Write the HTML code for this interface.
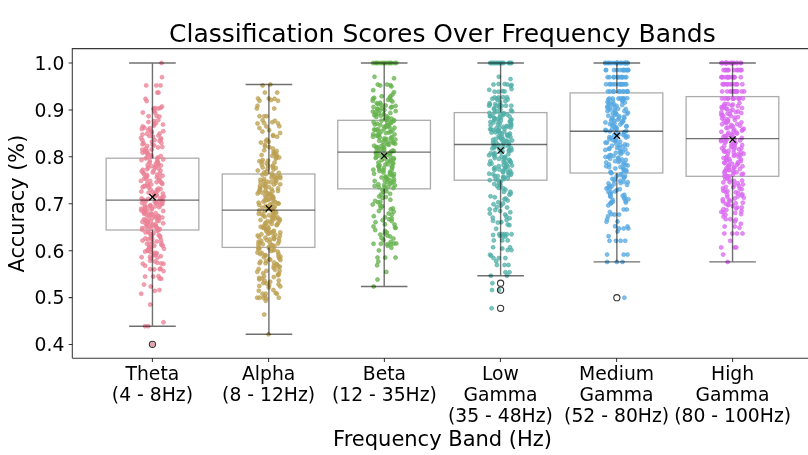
<!DOCTYPE html>
<html><head><meta charset="utf-8"><title>Classification Scores Over Frequency Bands</title>
<style>html,body{margin:0;padding:0;background:#fff;overflow:hidden}svg{display:block}</style>
</head><body>
<svg width="808" height="455" viewBox="0 0 808 455"><rect width="808" height="455" fill="#fff"/><g fill="#fff" stroke="#000" stroke-opacity="0.33" stroke-width="1.3"><rect x="106.15" y="158.2" width="92.7" height="71.8"/><rect x="222.2" y="174" width="92.7" height="73.4"/><rect x="337.75" y="120.3" width="92.7" height="68.5"/><rect x="454.25" y="112.6" width="92.7" height="67.6"/><rect x="570.1" y="92.9" width="92.7" height="80.1"/><rect x="686.1" y="96.6" width="92.7" height="79.7"/></g><g fill="#eb8295" fill-opacity="0.75" stroke="#eb8295" stroke-opacity="0.75" stroke-width="0.8"><circle cx="151.2" cy="258.6" r="2.0"/><circle cx="157.4" cy="257.7" r="2.0"/><circle cx="141.6" cy="257.2" r="2.0"/><circle cx="149.9" cy="256.9" r="2.0"/><circle cx="160.8" cy="256.2" r="2.0"/><circle cx="154.3" cy="255.1" r="2.0"/><circle cx="153.8" cy="255" r="2.0"/><circle cx="156.3" cy="253.8" r="2.0"/><circle cx="156.6" cy="253.2" r="2.0"/><circle cx="154.4" cy="252.8" r="2.0"/><circle cx="150.6" cy="252.2" r="2.0"/><circle cx="145.1" cy="251.6" r="2.0"/><circle cx="147.6" cy="250.9" r="2.0"/><circle cx="147.6" cy="250.1" r="2.0"/><circle cx="150.8" cy="249.4" r="2.0"/><circle cx="164" cy="248.7" r="2.0"/><circle cx="149" cy="247.8" r="2.0"/><circle cx="151.2" cy="247.3" r="2.0"/><circle cx="149.5" cy="246.7" r="2.0"/><circle cx="154.3" cy="245.8" r="2.0"/><circle cx="162.8" cy="245.7" r="2.0"/><circle cx="161.5" cy="245" r="2.0"/><circle cx="149.6" cy="244.1" r="2.0"/><circle cx="147" cy="243.8" r="2.0"/><circle cx="161.4" cy="243.1" r="2.0"/><circle cx="152.3" cy="242.2" r="2.0"/><circle cx="156.8" cy="241.5" r="2.0"/><circle cx="142.6" cy="240.6" r="2.0"/><circle cx="161" cy="240.1" r="2.0"/><circle cx="148.1" cy="239.5" r="2.0"/><circle cx="152.3" cy="238.9" r="2.0"/><circle cx="145.4" cy="238.4" r="2.0"/><circle cx="150.6" cy="237.9" r="2.0"/><circle cx="160.1" cy="237.1" r="2.0"/><circle cx="160" cy="236.1" r="2.0"/><circle cx="151.8" cy="235.8" r="2.0"/><circle cx="158.7" cy="235" r="2.0"/><circle cx="151.5" cy="234.6" r="2.0"/><circle cx="149.5" cy="233.4" r="2.0"/><circle cx="153.5" cy="233.2" r="2.0"/><circle cx="145.5" cy="232.4" r="2.0"/><circle cx="148.2" cy="231.4" r="2.0"/><circle cx="157.2" cy="230.9" r="2.0"/><circle cx="158.7" cy="230.1" r="2.0"/><circle cx="142.2" cy="229.7" r="2.0"/><circle cx="157.9" cy="229.2" r="2.0"/><circle cx="159.8" cy="229.1" r="2.0"/><circle cx="151.2" cy="228.5" r="2.0"/><circle cx="142.3" cy="228.1" r="2.0"/><circle cx="156.7" cy="227.5" r="2.0"/><circle cx="146.6" cy="227.3" r="2.0"/><circle cx="155.8" cy="226.7" r="2.0"/><circle cx="149.6" cy="226.5" r="2.0"/><circle cx="155.6" cy="226" r="2.0"/><circle cx="146.8" cy="225.6" r="2.0"/><circle cx="151.9" cy="225.2" r="2.0"/><circle cx="153" cy="224.5" r="2.0"/><circle cx="155.5" cy="224.3" r="2.0"/><circle cx="145.6" cy="223.6" r="2.0"/><circle cx="163.2" cy="223.3" r="2.0"/><circle cx="147.6" cy="222.9" r="2.0"/><circle cx="147.9" cy="222.4" r="2.0"/><circle cx="146.8" cy="222" r="2.0"/><circle cx="142.4" cy="221.8" r="2.0"/><circle cx="150.7" cy="221.2" r="2.0"/><circle cx="158.8" cy="220.9" r="2.0"/><circle cx="157.3" cy="220.4" r="2.0"/><circle cx="145.4" cy="220.1" r="2.0"/><circle cx="144" cy="219.3" r="2.0"/><circle cx="148.3" cy="219.2" r="2.0"/><circle cx="158.7" cy="218.6" r="2.0"/><circle cx="152.2" cy="218.3" r="2.0"/><circle cx="162.3" cy="217.6" r="2.0"/><circle cx="156.1" cy="217.3" r="2.0"/><circle cx="155.3" cy="217.1" r="2.0"/><circle cx="158.7" cy="216.4" r="2.0"/><circle cx="158.3" cy="215.9" r="2.0"/><circle cx="148.8" cy="215.5" r="2.0"/><circle cx="146.8" cy="215.2" r="2.0"/><circle cx="151" cy="215" r="2.0"/><circle cx="152.2" cy="214.5" r="2.0"/><circle cx="144.1" cy="213.8" r="2.0"/><circle cx="151.1" cy="213.5" r="2.0"/><circle cx="155.7" cy="213.2" r="2.0"/><circle cx="144" cy="212.5" r="2.0"/><circle cx="144.1" cy="212.2" r="2.0"/><circle cx="144.9" cy="211.8" r="2.0"/><circle cx="147.4" cy="211.4" r="2.0"/><circle cx="163.2" cy="211" r="2.0"/><circle cx="141.4" cy="210.6" r="2.0"/><circle cx="145.1" cy="210.3" r="2.0"/><circle cx="144.7" cy="209.5" r="2.0"/><circle cx="151.9" cy="209.3" r="2.0"/><circle cx="141.2" cy="208.8" r="2.0"/><circle cx="151.5" cy="208.5" r="2.0"/><circle cx="144.6" cy="207.9" r="2.0"/><circle cx="147.1" cy="207.7" r="2.0"/><circle cx="159.2" cy="207.2" r="2.0"/><circle cx="145.1" cy="206.9" r="2.0"/><circle cx="155.2" cy="206.4" r="2.0"/><circle cx="150.3" cy="205.6" r="2.0"/><circle cx="150.5" cy="205.3" r="2.0"/><circle cx="159.8" cy="205" r="2.0"/><circle cx="144.6" cy="204.5" r="2.0"/><circle cx="162.3" cy="204" r="2.0"/><circle cx="161.6" cy="203.8" r="2.0"/><circle cx="156.4" cy="203.2" r="2.0"/><circle cx="142" cy="202.8" r="2.0"/><circle cx="156.2" cy="202.5" r="2.0"/><circle cx="154.8" cy="202" r="2.0"/><circle cx="158.8" cy="201.4" r="2.0"/><circle cx="145.8" cy="201" r="2.0"/><circle cx="163" cy="200.9" r="2.0"/><circle cx="161.4" cy="200.1" r="2.0"/><circle cx="143.5" cy="200" r="2.0"/><circle cx="148.2" cy="199" r="2.0"/><circle cx="141.6" cy="198.4" r="2.0"/><circle cx="160.1" cy="198.2" r="2.0"/><circle cx="162.1" cy="197.4" r="2.0"/><circle cx="163.8" cy="196.6" r="2.0"/><circle cx="155" cy="196.5" r="2.0"/><circle cx="156.3" cy="195.5" r="2.0"/><circle cx="156.6" cy="194.8" r="2.0"/><circle cx="154.1" cy="194.4" r="2.0"/><circle cx="162.9" cy="193.6" r="2.0"/><circle cx="155" cy="193.3" r="2.0"/><circle cx="148.6" cy="192.7" r="2.0"/><circle cx="152.7" cy="192.1" r="2.0"/><circle cx="141.3" cy="191.6" r="2.0"/><circle cx="157.6" cy="190.9" r="2.0"/><circle cx="156.9" cy="189.9" r="2.0"/><circle cx="150.6" cy="189.5" r="2.0"/><circle cx="160.6" cy="189.1" r="2.0"/><circle cx="158.4" cy="188.5" r="2.0"/><circle cx="148.7" cy="187.5" r="2.0"/><circle cx="142.6" cy="187.2" r="2.0"/><circle cx="143.9" cy="186.3" r="2.0"/><circle cx="145.1" cy="186" r="2.0"/><circle cx="147.9" cy="185.4" r="2.0"/><circle cx="151.2" cy="184.5" r="2.0"/><circle cx="162.4" cy="184" r="2.0"/><circle cx="147.3" cy="183.5" r="2.0"/><circle cx="161.7" cy="183" r="2.0"/><circle cx="156.6" cy="182.2" r="2.0"/><circle cx="160.7" cy="181.8" r="2.0"/><circle cx="150.2" cy="180.9" r="2.0"/><circle cx="140.9" cy="180.9" r="2.0"/><circle cx="159.1" cy="180" r="2.0"/><circle cx="146.5" cy="179.4" r="2.0"/><circle cx="144.2" cy="178.5" r="2.0"/><circle cx="159.4" cy="178.3" r="2.0"/><circle cx="156.8" cy="177.4" r="2.0"/><circle cx="145.8" cy="176.9" r="2.0"/><circle cx="147.1" cy="176.3" r="2.0"/><circle cx="162.6" cy="175.7" r="2.0"/><circle cx="147.1" cy="174.9" r="2.0"/><circle cx="157.1" cy="174.7" r="2.0"/><circle cx="143.9" cy="174.1" r="2.0"/><circle cx="159.8" cy="173.6" r="2.0"/><circle cx="143.6" cy="173.1" r="2.0"/><circle cx="152.8" cy="172.4" r="2.0"/><circle cx="141.7" cy="171.4" r="2.0"/><circle cx="153.6" cy="170.8" r="2.0"/><circle cx="160.5" cy="170.6" r="2.0"/><circle cx="142.8" cy="169.8" r="2.0"/><circle cx="147.2" cy="169.2" r="2.0"/><circle cx="158.6" cy="168.6" r="2.0"/><circle cx="155" cy="167.9" r="2.0"/><circle cx="148.1" cy="167.5" r="2.0"/><circle cx="155.4" cy="166.5" r="2.0"/><circle cx="151.4" cy="166.2" r="2.0"/><circle cx="160.9" cy="165.5" r="2.0"/><circle cx="147.6" cy="164.9" r="2.0"/><circle cx="158.4" cy="164.6" r="2.0"/><circle cx="155.6" cy="164.1" r="2.0"/><circle cx="158" cy="163.3" r="2.0"/><circle cx="149.6" cy="162.5" r="2.0"/><circle cx="157.7" cy="161.8" r="2.0"/><circle cx="157.1" cy="161.3" r="2.0"/><circle cx="149.8" cy="161.1" r="2.0"/><circle cx="141.5" cy="160" r="2.0"/><circle cx="163.2" cy="159.5" r="2.0"/><circle cx="157.4" cy="158.8" r="2.0"/><circle cx="145.6" cy="158.4" r="2.0"/><circle cx="157.8" cy="157.5" r="2.0"/><circle cx="147.3" cy="157.4" r="2.0"/><circle cx="151.7" cy="156.7" r="2.0"/><circle cx="160.8" cy="156" r="2.0"/><circle cx="151.2" cy="155.1" r="2.0"/><circle cx="147.5" cy="154.3" r="2.0"/><circle cx="147.9" cy="153.7" r="2.0"/><circle cx="142.6" cy="152.7" r="2.0"/><circle cx="145.9" cy="152.3" r="2.0"/><circle cx="147.1" cy="151.2" r="2.0"/><circle cx="144.9" cy="150.8" r="2.0"/><circle cx="142.3" cy="149.7" r="2.0"/><circle cx="151.7" cy="149.5" r="2.0"/><circle cx="145.8" cy="148.5" r="2.0"/><circle cx="158" cy="147.4" r="2.0"/><circle cx="162.3" cy="146.9" r="2.0"/><circle cx="147.2" cy="146" r="2.0"/><circle cx="154.1" cy="145.4" r="2.0"/><circle cx="152.6" cy="144.7" r="2.0"/><circle cx="142.6" cy="144.3" r="2.0"/><circle cx="143.7" cy="143.3" r="2.0"/><circle cx="161.4" cy="143" r="2.0"/><circle cx="151.9" cy="141.7" r="2.0"/><circle cx="159.5" cy="140.9" r="2.0"/><circle cx="142.4" cy="140.2" r="2.0"/><circle cx="154.6" cy="140.1" r="2.0"/><circle cx="160.9" cy="139.2" r="2.0"/><circle cx="161" cy="138.5" r="2.0"/><circle cx="141" cy="137.9" r="2.0"/><circle cx="153" cy="136.8" r="2.0"/><circle cx="149.4" cy="136" r="2.0"/><circle cx="158.5" cy="135.6" r="2.0"/><circle cx="142.5" cy="134.5" r="2.0"/><circle cx="147" cy="133.8" r="2.0"/><circle cx="159.7" cy="133.6" r="2.0"/><circle cx="151.7" cy="132.4" r="2.0"/><circle cx="151.4" cy="131.5" r="2.0"/><circle cx="163.3" cy="131.2" r="2.0"/><circle cx="148.3" cy="130" r="2.0"/><circle cx="141.8" cy="129.1" r="2.0"/><circle cx="149.9" cy="128.2" r="2.0"/><circle cx="144.4" cy="127.8" r="2.0"/><circle cx="142.7" cy="126.4" r="2.0"/><circle cx="154" cy="125.6" r="2.0"/><circle cx="163" cy="124.5" r="2.0"/><circle cx="154.3" cy="123.7" r="2.0"/><circle cx="155.9" cy="123.2" r="2.0"/><circle cx="148.4" cy="122" r="2.0"/><circle cx="154.1" cy="121" r="2.0"/><circle cx="158.3" cy="120.1" r="2.0"/><circle cx="152.4" cy="344.3" r="2.0"/><circle cx="142.8" cy="263.8" r="2.0"/><circle cx="145.1" cy="265.8" r="2.0"/><circle cx="150.2" cy="260.8" r="2.0"/><circle cx="155.1" cy="261.5" r="2.0"/><circle cx="157.4" cy="262.8" r="2.0"/><circle cx="161.2" cy="263.4" r="2.0"/><circle cx="163.5" cy="263.8" r="2.0"/><circle cx="150.2" cy="269.2" r="2.0"/><circle cx="154.3" cy="269.5" r="2.0"/><circle cx="159.7" cy="269.2" r="2.0"/><circle cx="160.5" cy="268.5" r="2.0"/><circle cx="163.5" cy="271.1" r="2.0"/><circle cx="145.1" cy="276.6" r="2.0"/><circle cx="153.2" cy="276.6" r="2.0"/><circle cx="158.5" cy="276.2" r="2.0"/><circle cx="159.7" cy="278.5" r="2.0"/><circle cx="161.2" cy="278.8" r="2.0"/><circle cx="144" cy="284.6" r="2.0"/><circle cx="150.8" cy="286.5" r="2.0"/><circle cx="154.8" cy="290.8" r="2.0"/><circle cx="159.4" cy="290" r="2.0"/><circle cx="141.2" cy="293.8" r="2.0"/><circle cx="150.2" cy="304.6" r="2.0"/><circle cx="163.5" cy="322.3" r="2.0"/><circle cx="145.1" cy="326.2" r="2.0"/><circle cx="148.2" cy="326.2" r="2.0"/><circle cx="161.5" cy="63" r="2.0"/><circle cx="162" cy="77.2" r="2.0"/><circle cx="146.2" cy="85.4" r="2.0"/><circle cx="156.3" cy="85.4" r="2.0"/><circle cx="160.5" cy="85.4" r="2.0"/><circle cx="157.4" cy="92.6" r="2.0"/><circle cx="158.5" cy="92.6" r="2.0"/><circle cx="145.5" cy="98.8" r="2.0"/><circle cx="146.6" cy="101.1" r="2.0"/><circle cx="162" cy="106.5" r="2.0"/><circle cx="160.5" cy="108" r="2.0"/><circle cx="158.2" cy="108.5" r="2.0"/><circle cx="155.1" cy="108" r="2.0"/><circle cx="153.5" cy="108.8" r="2.0"/><circle cx="142.8" cy="112.6" r="2.0"/><circle cx="154.3" cy="111.1" r="2.0"/><circle cx="155.1" cy="112.6" r="2.0"/><circle cx="148.6" cy="116.2" r="2.0"/><circle cx="156.6" cy="115.7" r="2.0"/><circle cx="159.4" cy="116.5" r="2.0"/></g><g fill="#bca050" fill-opacity="0.75" stroke="#bca050" stroke-opacity="0.75" stroke-width="0.8"><circle cx="268.7" cy="287.5" r="2.0"/><circle cx="280.3" cy="286.5" r="2.0"/><circle cx="259.3" cy="285.9" r="2.0"/><circle cx="269.1" cy="285.4" r="2.0"/><circle cx="278.5" cy="284.3" r="2.0"/><circle cx="266.6" cy="283.5" r="2.0"/><circle cx="263.4" cy="283" r="2.0"/><circle cx="270.2" cy="281.8" r="2.0"/><circle cx="264.7" cy="280.8" r="2.0"/><circle cx="278.8" cy="280.5" r="2.0"/><circle cx="259.3" cy="279.4" r="2.0"/><circle cx="262.1" cy="278.4" r="2.0"/><circle cx="259.2" cy="277.9" r="2.0"/><circle cx="273.8" cy="277.1" r="2.0"/><circle cx="264.1" cy="276.2" r="2.0"/><circle cx="278.2" cy="275.3" r="2.0"/><circle cx="278" cy="274.4" r="2.0"/><circle cx="279" cy="273.6" r="2.0"/><circle cx="263.2" cy="273.2" r="2.0"/><circle cx="257.3" cy="271.8" r="2.0"/><circle cx="266.3" cy="270.9" r="2.0"/><circle cx="279.6" cy="270.7" r="2.0"/><circle cx="275" cy="269.8" r="2.0"/><circle cx="258.7" cy="269.1" r="2.0"/><circle cx="273.6" cy="267.7" r="2.0"/><circle cx="278.6" cy="266.8" r="2.0"/><circle cx="279.8" cy="266.7" r="2.0"/><circle cx="273.9" cy="265.7" r="2.0"/><circle cx="277.3" cy="265.1" r="2.0"/><circle cx="276.8" cy="264.3" r="2.0"/><circle cx="265.6" cy="263.3" r="2.0"/><circle cx="259.6" cy="263.2" r="2.0"/><circle cx="274.2" cy="262.5" r="2.0"/><circle cx="260.5" cy="261.6" r="2.0"/><circle cx="266.2" cy="260.9" r="2.0"/><circle cx="280.4" cy="260.1" r="2.0"/><circle cx="270.3" cy="259.7" r="2.0"/><circle cx="269.4" cy="259.2" r="2.0"/><circle cx="279.3" cy="258.4" r="2.0"/><circle cx="263.9" cy="257.3" r="2.0"/><circle cx="280.5" cy="256.8" r="2.0"/><circle cx="278.5" cy="256.6" r="2.0"/><circle cx="265.7" cy="255.4" r="2.0"/><circle cx="264.9" cy="255.1" r="2.0"/><circle cx="260.2" cy="254.1" r="2.0"/><circle cx="278.5" cy="254" r="2.0"/><circle cx="261.6" cy="252.8" r="2.0"/><circle cx="257.5" cy="252.6" r="2.0"/><circle cx="277.9" cy="251.7" r="2.0"/><circle cx="271.2" cy="250.9" r="2.0"/><circle cx="272.9" cy="250.3" r="2.0"/><circle cx="274.3" cy="249.9" r="2.0"/><circle cx="258.3" cy="249.3" r="2.0"/><circle cx="259.4" cy="248.5" r="2.0"/><circle cx="268.9" cy="248" r="2.0"/><circle cx="258.5" cy="247.2" r="2.0"/><circle cx="269" cy="246.8" r="2.0"/><circle cx="274.4" cy="246.1" r="2.0"/><circle cx="272.6" cy="245.6" r="2.0"/><circle cx="271.6" cy="244.9" r="2.0"/><circle cx="258.4" cy="244.6" r="2.0"/><circle cx="262.8" cy="244.2" r="2.0"/><circle cx="278.1" cy="243.5" r="2.0"/><circle cx="260.2" cy="242.7" r="2.0"/><circle cx="269.7" cy="242.4" r="2.0"/><circle cx="258.5" cy="241.8" r="2.0"/><circle cx="279.1" cy="241.1" r="2.0"/><circle cx="261.3" cy="240.8" r="2.0"/><circle cx="266.8" cy="240" r="2.0"/><circle cx="270" cy="239.4" r="2.0"/><circle cx="274" cy="239.2" r="2.0"/><circle cx="279" cy="238.5" r="2.0"/><circle cx="274.4" cy="238.2" r="2.0"/><circle cx="265.4" cy="237.7" r="2.0"/><circle cx="259" cy="237" r="2.0"/><circle cx="273.7" cy="236.4" r="2.0"/><circle cx="279.9" cy="235.7" r="2.0"/><circle cx="257.7" cy="235.6" r="2.0"/><circle cx="275.3" cy="234.7" r="2.0"/><circle cx="261.4" cy="234.3" r="2.0"/><circle cx="268" cy="234" r="2.0"/><circle cx="269.4" cy="233" r="2.0"/><circle cx="271.6" cy="232.6" r="2.0"/><circle cx="280.3" cy="232.4" r="2.0"/><circle cx="273.2" cy="231.4" r="2.0"/><circle cx="266.4" cy="231.3" r="2.0"/><circle cx="273.9" cy="230.8" r="2.0"/><circle cx="268.1" cy="230.2" r="2.0"/><circle cx="266.9" cy="229.3" r="2.0"/><circle cx="265.8" cy="229.2" r="2.0"/><circle cx="268.7" cy="228.2" r="2.0"/><circle cx="263.8" cy="227.9" r="2.0"/><circle cx="262.9" cy="227.6" r="2.0"/><circle cx="260.7" cy="226.8" r="2.0"/><circle cx="267.5" cy="226.4" r="2.0"/><circle cx="264.1" cy="225.8" r="2.0"/><circle cx="276.7" cy="225.1" r="2.0"/><circle cx="277" cy="224.6" r="2.0"/><circle cx="265.3" cy="223.9" r="2.0"/><circle cx="271.7" cy="223.9" r="2.0"/><circle cx="278.2" cy="223" r="2.0"/><circle cx="265.6" cy="222.7" r="2.0"/><circle cx="270.2" cy="221.9" r="2.0"/><circle cx="267.6" cy="221.3" r="2.0"/><circle cx="272.4" cy="220.8" r="2.0"/><circle cx="279.6" cy="220.6" r="2.0"/><circle cx="260.5" cy="220" r="2.0"/><circle cx="279.7" cy="219.2" r="2.0"/><circle cx="272.7" cy="218.6" r="2.0"/><circle cx="275.8" cy="218.4" r="2.0"/><circle cx="272" cy="217.6" r="2.0"/><circle cx="277.5" cy="217.3" r="2.0"/><circle cx="264.9" cy="216.8" r="2.0"/><circle cx="273.7" cy="216.1" r="2.0"/><circle cx="263.4" cy="215.7" r="2.0"/><circle cx="269.1" cy="215.2" r="2.0"/><circle cx="273.1" cy="214.7" r="2.0"/><circle cx="262" cy="214.1" r="2.0"/><circle cx="258.7" cy="213.8" r="2.0"/><circle cx="275.6" cy="213.3" r="2.0"/><circle cx="276.1" cy="212.4" r="2.0"/><circle cx="272.7" cy="211.9" r="2.0"/><circle cx="264.8" cy="211.3" r="2.0"/><circle cx="272.6" cy="210.7" r="2.0"/><circle cx="259.2" cy="210.5" r="2.0"/><circle cx="272.7" cy="210" r="2.0"/><circle cx="270.7" cy="209.4" r="2.0"/><circle cx="271.6" cy="208.9" r="2.0"/><circle cx="267.7" cy="208.2" r="2.0"/><circle cx="262.5" cy="207.8" r="2.0"/><circle cx="274.1" cy="207.4" r="2.0"/><circle cx="268.1" cy="206.7" r="2.0"/><circle cx="274.6" cy="206.4" r="2.0"/><circle cx="265.7" cy="205.9" r="2.0"/><circle cx="259.3" cy="205.1" r="2.0"/><circle cx="269.9" cy="204.6" r="2.0"/><circle cx="271.7" cy="204.3" r="2.0"/><circle cx="278.7" cy="203.6" r="2.0"/><circle cx="277.9" cy="203.4" r="2.0"/><circle cx="258.6" cy="202.7" r="2.0"/><circle cx="275.2" cy="202.1" r="2.0"/><circle cx="263.4" cy="201.7" r="2.0"/><circle cx="273.5" cy="201.2" r="2.0"/><circle cx="266.1" cy="200.5" r="2.0"/><circle cx="264.8" cy="200" r="2.0"/><circle cx="268.6" cy="199.7" r="2.0"/><circle cx="269.6" cy="198.9" r="2.0"/><circle cx="273.4" cy="198.7" r="2.0"/><circle cx="272.1" cy="197.8" r="2.0"/><circle cx="273" cy="197.6" r="2.0"/><circle cx="266.2" cy="197.1" r="2.0"/><circle cx="273" cy="196.6" r="2.0"/><circle cx="265.3" cy="195.7" r="2.0"/><circle cx="271.4" cy="195.5" r="2.0"/><circle cx="268" cy="194.8" r="2.0"/><circle cx="270.4" cy="194.1" r="2.0"/><circle cx="257.7" cy="193.6" r="2.0"/><circle cx="268.9" cy="193.6" r="2.0"/><circle cx="262.4" cy="192.8" r="2.0"/><circle cx="266.3" cy="192.3" r="2.0"/><circle cx="259" cy="191.7" r="2.0"/><circle cx="272.5" cy="191.4" r="2.0"/><circle cx="278" cy="190.9" r="2.0"/><circle cx="265.5" cy="190.5" r="2.0"/><circle cx="259.7" cy="190" r="2.0"/><circle cx="271.7" cy="189.2" r="2.0"/><circle cx="260.2" cy="188.9" r="2.0"/><circle cx="278" cy="188.4" r="2.0"/><circle cx="260.1" cy="187.8" r="2.0"/><circle cx="265.7" cy="187.4" r="2.0"/><circle cx="268.8" cy="186.9" r="2.0"/><circle cx="260" cy="185.9" r="2.0"/><circle cx="264.7" cy="185.7" r="2.0"/><circle cx="263.7" cy="185.3" r="2.0"/><circle cx="273.8" cy="184.5" r="2.0"/><circle cx="280.2" cy="184.3" r="2.0"/><circle cx="265.7" cy="183.7" r="2.0"/><circle cx="275.6" cy="182.8" r="2.0"/><circle cx="260.6" cy="182.3" r="2.0"/><circle cx="270.8" cy="182" r="2.0"/><circle cx="267.3" cy="181.7" r="2.0"/><circle cx="264" cy="181.1" r="2.0"/><circle cx="276.4" cy="180.7" r="2.0"/><circle cx="274.6" cy="180.1" r="2.0"/><circle cx="260.4" cy="179.7" r="2.0"/><circle cx="264.1" cy="179.1" r="2.0"/><circle cx="276.3" cy="178.3" r="2.0"/><circle cx="280.3" cy="178.1" r="2.0"/><circle cx="271.5" cy="177.6" r="2.0"/><circle cx="277.5" cy="176.7" r="2.0"/><circle cx="280.1" cy="176.4" r="2.0"/><circle cx="274.5" cy="175.9" r="2.0"/><circle cx="272.3" cy="175.5" r="2.0"/><circle cx="262.4" cy="174.7" r="2.0"/><circle cx="265.9" cy="174.2" r="2.0"/><circle cx="271.8" cy="173.6" r="2.0"/><circle cx="278.8" cy="172.8" r="2.0"/><circle cx="264.3" cy="172.4" r="2.0"/><circle cx="266.5" cy="171.5" r="2.0"/><circle cx="257.8" cy="170.5" r="2.0"/><circle cx="273.5" cy="169.4" r="2.0"/><circle cx="267.6" cy="168.7" r="2.0"/><circle cx="275.8" cy="168.1" r="2.0"/><circle cx="262.7" cy="167.4" r="2.0"/><circle cx="272.6" cy="167" r="2.0"/><circle cx="272.9" cy="165.6" r="2.0"/><circle cx="268.1" cy="165.4" r="2.0"/><circle cx="261.7" cy="164.6" r="2.0"/><circle cx="266.6" cy="163.4" r="2.0"/><circle cx="274.6" cy="162.5" r="2.0"/><circle cx="261.7" cy="161.8" r="2.0"/><circle cx="259.4" cy="161.2" r="2.0"/><circle cx="268" cy="160.7" r="2.0"/><circle cx="262.7" cy="160" r="2.0"/><circle cx="275.9" cy="158.6" r="2.0"/><circle cx="276.3" cy="157.7" r="2.0"/><circle cx="279.2" cy="157.5" r="2.0"/><circle cx="276.8" cy="156.3" r="2.0"/><circle cx="272.3" cy="155.8" r="2.0"/><circle cx="261.6" cy="155.1" r="2.0"/><circle cx="276.4" cy="154.2" r="2.0"/><circle cx="274.2" cy="153.8" r="2.0"/><circle cx="274.6" cy="152.7" r="2.0"/><circle cx="273.5" cy="152.1" r="2.0"/><circle cx="276.6" cy="150.9" r="2.0"/><circle cx="264.2" cy="150.3" r="2.0"/><circle cx="272.9" cy="148.6" r="2.0"/><circle cx="269.3" cy="147.1" r="2.0"/><circle cx="265.1" cy="146.5" r="2.0"/><circle cx="264.9" cy="145.1" r="2.0"/><circle cx="260.9" cy="142.6" r="2.0"/><circle cx="268.7" cy="141.8" r="2.0"/><circle cx="265.9" cy="140.9" r="2.0"/><circle cx="267.1" cy="139.6" r="2.0"/><circle cx="277.1" cy="136.7" r="2.0"/><circle cx="273.1" cy="135.9" r="2.0"/><circle cx="273.1" cy="135.2" r="2.0"/><circle cx="280.1" cy="133" r="2.0"/><circle cx="262.4" cy="131.6" r="2.0"/><circle cx="269.1" cy="130.2" r="2.0"/><circle cx="259.4" cy="128" r="2.0"/><circle cx="266.4" cy="126.5" r="2.0"/><circle cx="279.3" cy="126.3" r="2.0"/><circle cx="258.8" cy="290.8" r="2.0"/><circle cx="262.6" cy="293.8" r="2.0"/><circle cx="265.7" cy="293.8" r="2.0"/><circle cx="264.9" cy="296.2" r="2.0"/><circle cx="273.4" cy="290" r="2.0"/><circle cx="275.7" cy="293.1" r="2.0"/><circle cx="278.8" cy="297.7" r="2.0"/><circle cx="276.9" cy="293.8" r="2.0"/><circle cx="257.2" cy="297.7" r="2.0"/><circle cx="259.5" cy="297.7" r="2.0"/><circle cx="263.4" cy="297.7" r="2.0"/><circle cx="266.2" cy="298.5" r="2.0"/><circle cx="265.7" cy="300.8" r="2.0"/><circle cx="264.2" cy="314.6" r="2.0"/><circle cx="268.5" cy="334.3" r="2.0"/><circle cx="262.6" cy="85.4" r="2.0"/><circle cx="270.3" cy="84.5" r="2.0"/><circle cx="264.9" cy="92.6" r="2.0"/><circle cx="277.2" cy="92.6" r="2.0"/><circle cx="258" cy="98.5" r="2.0"/><circle cx="259.5" cy="100.8" r="2.0"/><circle cx="268.8" cy="98.5" r="2.0"/><circle cx="271.1" cy="100" r="2.0"/><circle cx="274.5" cy="98.8" r="2.0"/><circle cx="278" cy="100.8" r="2.0"/><circle cx="257.5" cy="105.8" r="2.0"/><circle cx="256.9" cy="108.5" r="2.0"/><circle cx="274.2" cy="108.5" r="2.0"/><circle cx="259.5" cy="116.2" r="2.0"/><circle cx="264.2" cy="116.2" r="2.0"/><circle cx="266.5" cy="116.2" r="2.0"/><circle cx="262.6" cy="120.3" r="2.0"/><circle cx="264.2" cy="123.1" r="2.0"/><circle cx="257.5" cy="123.4" r="2.0"/><circle cx="272.3" cy="122.3" r="2.0"/><circle cx="274.9" cy="120.8" r="2.0"/><circle cx="278" cy="123.4" r="2.0"/></g><g fill="#65b14d" fill-opacity="0.75" stroke="#65b14d" stroke-opacity="0.75" stroke-width="0.8"><circle cx="390.7" cy="241.9" r="2.0"/><circle cx="383.5" cy="239.9" r="2.0"/><circle cx="393.4" cy="238.6" r="2.0"/><circle cx="381.5" cy="237.9" r="2.0"/><circle cx="390" cy="236.4" r="2.0"/><circle cx="387.4" cy="235.6" r="2.0"/><circle cx="380.3" cy="234.6" r="2.0"/><circle cx="384.9" cy="233.2" r="2.0"/><circle cx="386.7" cy="232.4" r="2.0"/><circle cx="385.1" cy="231.1" r="2.0"/><circle cx="375.2" cy="230" r="2.0"/><circle cx="395.6" cy="228" r="2.0"/><circle cx="395" cy="227.6" r="2.0"/><circle cx="373.5" cy="226.5" r="2.0"/><circle cx="394.5" cy="224.5" r="2.0"/><circle cx="384.9" cy="224.3" r="2.0"/><circle cx="375.5" cy="222.2" r="2.0"/><circle cx="391.6" cy="221.1" r="2.0"/><circle cx="382.6" cy="220.2" r="2.0"/><circle cx="389.1" cy="219.3" r="2.0"/><circle cx="391.8" cy="218.4" r="2.0"/><circle cx="385.1" cy="217.3" r="2.0"/><circle cx="373.8" cy="216.2" r="2.0"/><circle cx="391.7" cy="214.7" r="2.0"/><circle cx="388.7" cy="213.5" r="2.0"/><circle cx="393.7" cy="211.7" r="2.0"/><circle cx="378.9" cy="211" r="2.0"/><circle cx="390.8" cy="209.3" r="2.0"/><circle cx="392.9" cy="208.4" r="2.0"/><circle cx="380.8" cy="207.9" r="2.0"/><circle cx="382.1" cy="206.3" r="2.0"/><circle cx="380.3" cy="205.6" r="2.0"/><circle cx="372.7" cy="204.5" r="2.0"/><circle cx="378" cy="202.3" r="2.0"/><circle cx="380.3" cy="201.9" r="2.0"/><circle cx="375.1" cy="200.9" r="2.0"/><circle cx="390.4" cy="199.8" r="2.0"/><circle cx="382.5" cy="198" r="2.0"/><circle cx="385.8" cy="197" r="2.0"/><circle cx="379.2" cy="196.4" r="2.0"/><circle cx="381" cy="194.4" r="2.0"/><circle cx="390.1" cy="193.8" r="2.0"/><circle cx="383.5" cy="192" r="2.0"/><circle cx="386.4" cy="191.2" r="2.0"/><circle cx="382.4" cy="189.9" r="2.0"/><circle cx="385.5" cy="188.9" r="2.0"/><circle cx="393.4" cy="188.1" r="2.0"/><circle cx="378.8" cy="187.3" r="2.0"/><circle cx="384.6" cy="186.9" r="2.0"/><circle cx="388.5" cy="186.7" r="2.0"/><circle cx="374.6" cy="185.9" r="2.0"/><circle cx="394.9" cy="185.4" r="2.0"/><circle cx="384.2" cy="184.9" r="2.0"/><circle cx="378.3" cy="184.3" r="2.0"/><circle cx="390.2" cy="183.7" r="2.0"/><circle cx="391.5" cy="182.7" r="2.0"/><circle cx="387.2" cy="182.2" r="2.0"/><circle cx="393.9" cy="181.5" r="2.0"/><circle cx="374.7" cy="181" r="2.0"/><circle cx="384.8" cy="180.7" r="2.0"/><circle cx="389.8" cy="180.1" r="2.0"/><circle cx="393.9" cy="179.4" r="2.0"/><circle cx="387.5" cy="178.9" r="2.0"/><circle cx="386.6" cy="178.3" r="2.0"/><circle cx="381.6" cy="177.5" r="2.0"/><circle cx="385.9" cy="177.3" r="2.0"/><circle cx="385.5" cy="176.6" r="2.0"/><circle cx="393.6" cy="175.9" r="2.0"/><circle cx="391.8" cy="175.2" r="2.0"/><circle cx="389.7" cy="174.6" r="2.0"/><circle cx="394" cy="174" r="2.0"/><circle cx="374.1" cy="173.8" r="2.0"/><circle cx="390.5" cy="173.1" r="2.0"/><circle cx="383.4" cy="172.5" r="2.0"/><circle cx="390" cy="171.9" r="2.0"/><circle cx="379.5" cy="171" r="2.0"/><circle cx="383.4" cy="170.3" r="2.0"/><circle cx="391.7" cy="169.9" r="2.0"/><circle cx="373.4" cy="169.7" r="2.0"/><circle cx="379.4" cy="169" r="2.0"/><circle cx="383.9" cy="168.1" r="2.0"/><circle cx="392.4" cy="167.4" r="2.0"/><circle cx="378.9" cy="167" r="2.0"/><circle cx="391.7" cy="166.6" r="2.0"/><circle cx="378.3" cy="166" r="2.0"/><circle cx="379.6" cy="165.2" r="2.0"/><circle cx="385.4" cy="164.5" r="2.0"/><circle cx="387.8" cy="164.2" r="2.0"/><circle cx="393" cy="163.7" r="2.0"/><circle cx="393" cy="163.3" r="2.0"/><circle cx="378.4" cy="162.6" r="2.0"/><circle cx="389.9" cy="161.6" r="2.0"/><circle cx="387.3" cy="161.1" r="2.0"/><circle cx="381.6" cy="160.3" r="2.0"/><circle cx="390.6" cy="160.3" r="2.0"/><circle cx="393.4" cy="159.5" r="2.0"/><circle cx="383.7" cy="158.7" r="2.0"/><circle cx="393.9" cy="158.2" r="2.0"/><circle cx="375.6" cy="157.9" r="2.0"/><circle cx="376.5" cy="157.1" r="2.0"/><circle cx="390.3" cy="156.4" r="2.0"/><circle cx="379.7" cy="155.8" r="2.0"/><circle cx="386.2" cy="155.4" r="2.0"/><circle cx="384.1" cy="154.9" r="2.0"/><circle cx="376" cy="153.9" r="2.0"/><circle cx="390.1" cy="153.6" r="2.0"/><circle cx="389.8" cy="152.9" r="2.0"/><circle cx="376" cy="152.4" r="2.0"/><circle cx="378.6" cy="152.1" r="2.0"/><circle cx="391.2" cy="151.5" r="2.0"/><circle cx="393.8" cy="151.1" r="2.0"/><circle cx="392.8" cy="150.5" r="2.0"/><circle cx="384.2" cy="150" r="2.0"/><circle cx="381.1" cy="149.3" r="2.0"/><circle cx="382.9" cy="148.9" r="2.0"/><circle cx="376.7" cy="148.4" r="2.0"/><circle cx="384.1" cy="147.6" r="2.0"/><circle cx="378" cy="147.5" r="2.0"/><circle cx="376.4" cy="147" r="2.0"/><circle cx="381.4" cy="146.1" r="2.0"/><circle cx="374.1" cy="145.7" r="2.0"/><circle cx="383.5" cy="145.3" r="2.0"/><circle cx="388.8" cy="144.8" r="2.0"/><circle cx="387.7" cy="144.2" r="2.0"/><circle cx="395.2" cy="143.8" r="2.0"/><circle cx="393.2" cy="143" r="2.0"/><circle cx="387.3" cy="142.5" r="2.0"/><circle cx="393.4" cy="142.3" r="2.0"/><circle cx="382.9" cy="141.9" r="2.0"/><circle cx="391.1" cy="141" r="2.0"/><circle cx="379.2" cy="140.8" r="2.0"/><circle cx="384.8" cy="140.1" r="2.0"/><circle cx="395.3" cy="139.5" r="2.0"/><circle cx="386.5" cy="139" r="2.0"/><circle cx="384.4" cy="138.4" r="2.0"/><circle cx="390.9" cy="138.1" r="2.0"/><circle cx="379.8" cy="137.4" r="2.0"/><circle cx="391.9" cy="137.1" r="2.0"/><circle cx="373" cy="136.7" r="2.0"/><circle cx="378.1" cy="136.1" r="2.0"/><circle cx="376.7" cy="135.6" r="2.0"/><circle cx="378.6" cy="134.9" r="2.0"/><circle cx="394.5" cy="134.4" r="2.0"/><circle cx="373.2" cy="134.2" r="2.0"/><circle cx="379.5" cy="133.7" r="2.0"/><circle cx="385.9" cy="133.1" r="2.0"/><circle cx="388.9" cy="132.5" r="2.0"/><circle cx="390.6" cy="131.8" r="2.0"/><circle cx="381.5" cy="131.3" r="2.0"/><circle cx="377.7" cy="130.7" r="2.0"/><circle cx="392.4" cy="130.4" r="2.0"/><circle cx="375.4" cy="129.9" r="2.0"/><circle cx="374.1" cy="129.6" r="2.0"/><circle cx="378" cy="129" r="2.0"/><circle cx="384" cy="128.7" r="2.0"/><circle cx="394.5" cy="127.8" r="2.0"/><circle cx="389.5" cy="127.5" r="2.0"/><circle cx="385.7" cy="127.1" r="2.0"/><circle cx="384.7" cy="126.5" r="2.0"/><circle cx="388.7" cy="126" r="2.0"/><circle cx="387.1" cy="125.3" r="2.0"/><circle cx="380.4" cy="125.1" r="2.0"/><circle cx="374.8" cy="124.5" r="2.0"/><circle cx="377.3" cy="123.7" r="2.0"/><circle cx="390.8" cy="123.2" r="2.0"/><circle cx="387.3" cy="122.8" r="2.0"/><circle cx="391.1" cy="122.3" r="2.0"/><circle cx="373.6" cy="122" r="2.0"/><circle cx="393.5" cy="121.1" r="2.0"/><circle cx="381.5" cy="120.7" r="2.0"/><circle cx="394.1" cy="120.3" r="2.0"/><circle cx="386.4" cy="119.9" r="2.0"/><circle cx="385.3" cy="119.3" r="2.0"/><circle cx="391.6" cy="118.7" r="2.0"/><circle cx="387.1" cy="118.1" r="2.0"/><circle cx="388.3" cy="117.7" r="2.0"/><circle cx="376.3" cy="116.9" r="2.0"/><circle cx="386.6" cy="116.3" r="2.0"/><circle cx="380.9" cy="115.8" r="2.0"/><circle cx="374.4" cy="115.2" r="2.0"/><circle cx="375.7" cy="114.7" r="2.0"/><circle cx="383.7" cy="114.1" r="2.0"/><circle cx="378.7" cy="113.4" r="2.0"/><circle cx="390.4" cy="112.9" r="2.0"/><circle cx="375.4" cy="112.5" r="2.0"/><circle cx="372.9" cy="111.6" r="2.0"/><circle cx="395.7" cy="111.1" r="2.0"/><circle cx="379.9" cy="110.6" r="2.0"/><circle cx="384.4" cy="109.9" r="2.0"/><circle cx="377.5" cy="109.3" r="2.0"/><circle cx="377.4" cy="108.7" r="2.0"/><circle cx="381.9" cy="108.1" r="2.0"/><circle cx="390.9" cy="107.6" r="2.0"/><circle cx="373.5" cy="107" r="2.0"/><circle cx="392" cy="106.8" r="2.0"/><circle cx="395.6" cy="105.9" r="2.0"/><circle cx="385.6" cy="105.5" r="2.0"/><circle cx="381" cy="104.7" r="2.0"/><circle cx="378" cy="104.1" r="2.0"/><circle cx="376.8" cy="103.2" r="2.0"/><circle cx="380.1" cy="102.7" r="2.0"/><circle cx="392.4" cy="101.6" r="2.0"/><circle cx="372.7" cy="100.8" r="2.0"/><circle cx="390.8" cy="100" r="2.0"/><circle cx="388.1" cy="99.8" r="2.0"/><circle cx="373" cy="98.7" r="2.0"/><circle cx="374.2" cy="97.8" r="2.0"/><circle cx="389.7" cy="97.7" r="2.0"/><circle cx="373.5" cy="243.8" r="2.0"/><circle cx="380.9" cy="243.8" r="2.0"/><circle cx="387.1" cy="244.2" r="2.0"/><circle cx="390.9" cy="244.2" r="2.0"/><circle cx="394" cy="243.5" r="2.0"/><circle cx="396.3" cy="243.5" r="2.0"/><circle cx="387.8" cy="245.8" r="2.0"/><circle cx="391.4" cy="247.8" r="2.0"/><circle cx="378.9" cy="250.4" r="2.0"/><circle cx="377.5" cy="257.6" r="2.0"/><circle cx="385.2" cy="257.6" r="2.0"/><circle cx="395.5" cy="257.6" r="2.0"/><circle cx="378.3" cy="261.6" r="2.0"/><circle cx="377.1" cy="265.3" r="2.0"/><circle cx="386.3" cy="271.9" r="2.0"/><circle cx="377.5" cy="279.6" r="2.0"/><circle cx="373.7" cy="286.5" r="2.0"/><circle cx="373.2" cy="63" r="2.0"/><circle cx="375.5" cy="63" r="2.0"/><circle cx="377.8" cy="63" r="2.0"/><circle cx="380.2" cy="63" r="2.0"/><circle cx="382.5" cy="63" r="2.0"/><circle cx="385.5" cy="63" r="2.0"/><circle cx="387.8" cy="63" r="2.0"/><circle cx="389.4" cy="63" r="2.0"/><circle cx="391.7" cy="63" r="2.0"/><circle cx="394.8" cy="63" r="2.0"/><circle cx="396.3" cy="63" r="2.0"/><circle cx="376.5" cy="63" r="2.0"/><circle cx="384" cy="63" r="2.0"/><circle cx="390.5" cy="63" r="2.0"/><circle cx="374.5" cy="76.8" r="2.0"/><circle cx="394" cy="78.3" r="2.0"/><circle cx="377.8" cy="84.5" r="2.0"/><circle cx="380.2" cy="85.5" r="2.0"/><circle cx="387.1" cy="84.5" r="2.0"/><circle cx="390.5" cy="85.2" r="2.0"/><circle cx="391.4" cy="86.5" r="2.0"/><circle cx="373.2" cy="90.2" r="2.0"/><circle cx="394" cy="92.2" r="2.0"/><circle cx="392.5" cy="94.5" r="2.0"/><circle cx="390.5" cy="96.3" r="2.0"/><circle cx="381.7" cy="96.3" r="2.0"/></g><g fill="#51afa8" fill-opacity="0.75" stroke="#51afa8" stroke-opacity="0.75" stroke-width="0.8"><circle cx="509.4" cy="225.2" r="2.0"/><circle cx="507.7" cy="224.5" r="2.0"/><circle cx="497.8" cy="222.6" r="2.0"/><circle cx="501.3" cy="222.2" r="2.0"/><circle cx="493" cy="220.8" r="2.0"/><circle cx="506.6" cy="220" r="2.0"/><circle cx="509.7" cy="218.2" r="2.0"/><circle cx="492.7" cy="217.6" r="2.0"/><circle cx="506.3" cy="216.4" r="2.0"/><circle cx="505.1" cy="214.5" r="2.0"/><circle cx="489.8" cy="213.6" r="2.0"/><circle cx="510.3" cy="212.3" r="2.0"/><circle cx="500.1" cy="211" r="2.0"/><circle cx="495.2" cy="210" r="2.0"/><circle cx="489.7" cy="209.3" r="2.0"/><circle cx="507.1" cy="207.5" r="2.0"/><circle cx="496.8" cy="207" r="2.0"/><circle cx="500.9" cy="205.6" r="2.0"/><circle cx="493.5" cy="204.3" r="2.0"/><circle cx="503.1" cy="203.5" r="2.0"/><circle cx="498.2" cy="202.3" r="2.0"/><circle cx="507.7" cy="200.5" r="2.0"/><circle cx="504.5" cy="199.2" r="2.0"/><circle cx="505.7" cy="198.5" r="2.0"/><circle cx="494.8" cy="197.3" r="2.0"/><circle cx="490.5" cy="196.3" r="2.0"/><circle cx="509.4" cy="194.7" r="2.0"/><circle cx="510.7" cy="193.5" r="2.0"/><circle cx="503.9" cy="191.9" r="2.0"/><circle cx="510.4" cy="191.8" r="2.0"/><circle cx="505.4" cy="189.6" r="2.0"/><circle cx="503.1" cy="188.3" r="2.0"/><circle cx="498.7" cy="187.9" r="2.0"/><circle cx="497.3" cy="186.2" r="2.0"/><circle cx="500.4" cy="185" r="2.0"/><circle cx="494.2" cy="184" r="2.0"/><circle cx="498.9" cy="183.2" r="2.0"/><circle cx="500.8" cy="181.7" r="2.0"/><circle cx="489.7" cy="180.2" r="2.0"/><circle cx="498.1" cy="180.1" r="2.0"/><circle cx="495.6" cy="179.4" r="2.0"/><circle cx="503.7" cy="179.1" r="2.0"/><circle cx="507.8" cy="178.2" r="2.0"/><circle cx="503.3" cy="177.7" r="2.0"/><circle cx="504.4" cy="177.5" r="2.0"/><circle cx="503.2" cy="176.7" r="2.0"/><circle cx="494.9" cy="176.2" r="2.0"/><circle cx="497.7" cy="176" r="2.0"/><circle cx="508.6" cy="175.3" r="2.0"/><circle cx="510.9" cy="174.7" r="2.0"/><circle cx="493.2" cy="174.3" r="2.0"/><circle cx="489.2" cy="173.7" r="2.0"/><circle cx="511.3" cy="173" r="2.0"/><circle cx="508.9" cy="172.7" r="2.0"/><circle cx="503.1" cy="172.2" r="2.0"/><circle cx="508" cy="171.9" r="2.0"/><circle cx="502.8" cy="171.4" r="2.0"/><circle cx="510" cy="170.5" r="2.0"/><circle cx="494.6" cy="170" r="2.0"/><circle cx="499.3" cy="169.5" r="2.0"/><circle cx="504.6" cy="169.1" r="2.0"/><circle cx="494" cy="168.6" r="2.0"/><circle cx="505.6" cy="168.1" r="2.0"/><circle cx="495.1" cy="167.5" r="2.0"/><circle cx="505.5" cy="167.2" r="2.0"/><circle cx="507.7" cy="166.6" r="2.0"/><circle cx="498.8" cy="166.1" r="2.0"/><circle cx="512" cy="165.5" r="2.0"/><circle cx="503.6" cy="165.2" r="2.0"/><circle cx="506.6" cy="164.8" r="2.0"/><circle cx="489.5" cy="164.2" r="2.0"/><circle cx="491.6" cy="163.7" r="2.0"/><circle cx="505.5" cy="162.8" r="2.0"/><circle cx="510.9" cy="162.4" r="2.0"/><circle cx="503.6" cy="161.9" r="2.0"/><circle cx="510.2" cy="161.5" r="2.0"/><circle cx="490.4" cy="161.2" r="2.0"/><circle cx="509.7" cy="160.5" r="2.0"/><circle cx="509.4" cy="159.8" r="2.0"/><circle cx="503.6" cy="159.4" r="2.0"/><circle cx="499" cy="158.9" r="2.0"/><circle cx="505.4" cy="158.5" r="2.0"/><circle cx="494.7" cy="158.1" r="2.0"/><circle cx="504.5" cy="157.3" r="2.0"/><circle cx="505.1" cy="156.9" r="2.0"/><circle cx="501.5" cy="156.5" r="2.0"/><circle cx="495" cy="156" r="2.0"/><circle cx="489" cy="155.3" r="2.0"/><circle cx="493.5" cy="154.9" r="2.0"/><circle cx="508.3" cy="154.3" r="2.0"/><circle cx="493.9" cy="153.9" r="2.0"/><circle cx="490.7" cy="153.2" r="2.0"/><circle cx="494.7" cy="152.9" r="2.0"/><circle cx="501" cy="152.3" r="2.0"/><circle cx="502.6" cy="151.6" r="2.0"/><circle cx="509.3" cy="151.2" r="2.0"/><circle cx="508.8" cy="150.6" r="2.0"/><circle cx="511.5" cy="150.3" r="2.0"/><circle cx="509.5" cy="149.6" r="2.0"/><circle cx="499.4" cy="149.3" r="2.0"/><circle cx="492.3" cy="148.5" r="2.0"/><circle cx="511.2" cy="148" r="2.0"/><circle cx="494.3" cy="147.6" r="2.0"/><circle cx="503.4" cy="147" r="2.0"/><circle cx="495.1" cy="146.6" r="2.0"/><circle cx="508" cy="146" r="2.0"/><circle cx="493.7" cy="145.8" r="2.0"/><circle cx="498.8" cy="144.9" r="2.0"/><circle cx="494.1" cy="144.5" r="2.0"/><circle cx="509" cy="144.3" r="2.0"/><circle cx="503.4" cy="143.8" r="2.0"/><circle cx="503.6" cy="143.2" r="2.0"/><circle cx="496.3" cy="142.7" r="2.0"/><circle cx="493.1" cy="142.5" r="2.0"/><circle cx="508.9" cy="141.7" r="2.0"/><circle cx="506.7" cy="141.5" r="2.0"/><circle cx="506" cy="140.7" r="2.0"/><circle cx="512.1" cy="140.4" r="2.0"/><circle cx="502" cy="140.1" r="2.0"/><circle cx="493.1" cy="139.7" r="2.0"/><circle cx="503.1" cy="139.3" r="2.0"/><circle cx="495.7" cy="138.9" r="2.0"/><circle cx="500.9" cy="138.2" r="2.0"/><circle cx="499.7" cy="137.6" r="2.0"/><circle cx="502.1" cy="137.1" r="2.0"/><circle cx="510.4" cy="136.9" r="2.0"/><circle cx="507.8" cy="136.2" r="2.0"/><circle cx="498.6" cy="136" r="2.0"/><circle cx="508" cy="135.3" r="2.0"/><circle cx="509" cy="134.8" r="2.0"/><circle cx="507" cy="134.7" r="2.0"/><circle cx="501.8" cy="133.9" r="2.0"/><circle cx="509.9" cy="133.6" r="2.0"/><circle cx="500.4" cy="133.1" r="2.0"/><circle cx="491.5" cy="132.6" r="2.0"/><circle cx="495.3" cy="132.3" r="2.0"/><circle cx="504.3" cy="131.8" r="2.0"/><circle cx="497.8" cy="131.4" r="2.0"/><circle cx="498.8" cy="130.8" r="2.0"/><circle cx="498.3" cy="130.3" r="2.0"/><circle cx="493.5" cy="130.2" r="2.0"/><circle cx="491.2" cy="129.4" r="2.0"/><circle cx="490.1" cy="129.2" r="2.0"/><circle cx="504.6" cy="128.8" r="2.0"/><circle cx="496.5" cy="128.3" r="2.0"/><circle cx="499.6" cy="127.7" r="2.0"/><circle cx="510.7" cy="127.4" r="2.0"/><circle cx="503.5" cy="126.9" r="2.0"/><circle cx="507.8" cy="126.5" r="2.0"/><circle cx="506.7" cy="126" r="2.0"/><circle cx="511.1" cy="125.3" r="2.0"/><circle cx="490.6" cy="125.2" r="2.0"/><circle cx="497.9" cy="124.5" r="2.0"/><circle cx="511" cy="124" r="2.0"/><circle cx="499.8" cy="123.8" r="2.0"/><circle cx="511" cy="123.3" r="2.0"/><circle cx="493.3" cy="122.5" r="2.0"/><circle cx="490.4" cy="122" r="2.0"/><circle cx="509.8" cy="121.6" r="2.0"/><circle cx="498.5" cy="121.5" r="2.0"/><circle cx="500.8" cy="120.8" r="2.0"/><circle cx="510.7" cy="120.4" r="2.0"/><circle cx="494.1" cy="120.1" r="2.0"/><circle cx="511.5" cy="119.5" r="2.0"/><circle cx="498.2" cy="118.9" r="2.0"/><circle cx="494.7" cy="118.4" r="2.0"/><circle cx="494.4" cy="118.2" r="2.0"/><circle cx="501" cy="117.9" r="2.0"/><circle cx="499.8" cy="117" r="2.0"/><circle cx="509.6" cy="116.5" r="2.0"/><circle cx="490.2" cy="116.3" r="2.0"/><circle cx="490" cy="116" r="2.0"/><circle cx="492.5" cy="115.4" r="2.0"/><circle cx="503.1" cy="114.9" r="2.0"/><circle cx="507.1" cy="114.5" r="2.0"/><circle cx="500.1" cy="114.1" r="2.0"/><circle cx="503.2" cy="113.7" r="2.0"/><circle cx="503.9" cy="113.2" r="2.0"/><circle cx="489.4" cy="112.9" r="2.0"/><circle cx="494.7" cy="112.3" r="2.0"/><circle cx="512.1" cy="111.3" r="2.0"/><circle cx="496.7" cy="111.3" r="2.0"/><circle cx="511" cy="110.3" r="2.0"/><circle cx="500.4" cy="109.7" r="2.0"/><circle cx="494.2" cy="109.3" r="2.0"/><circle cx="489.1" cy="105.7" r="2.0"/><circle cx="494" cy="108.3" r="2.0"/><circle cx="496.5" cy="105.7" r="2.0"/><circle cx="499.2" cy="106.9" r="2.0"/><circle cx="499.4" cy="105.7" r="2.0"/><circle cx="501.7" cy="105.7" r="2.0"/><circle cx="500" cy="105.1" r="2.0"/><circle cx="489.8" cy="104.6" r="2.0"/><circle cx="495.2" cy="104.2" r="2.0"/><circle cx="511.3" cy="105.7" r="2.0"/><circle cx="489.6" cy="103.2" r="2.0"/><circle cx="506" cy="105.7" r="2.0"/><circle cx="500.1" cy="101.9" r="2.0"/><circle cx="505.4" cy="101.2" r="2.0"/><circle cx="496.7" cy="98.5" r="2.0"/><circle cx="497.6" cy="100" r="2.0"/><circle cx="492.4" cy="283.2" r="2.0"/><circle cx="492" cy="290.1" r="2.0"/><circle cx="499.1" cy="290.1" r="2.0"/><circle cx="491.6" cy="308.3" r="2.0"/><circle cx="496.2" cy="228.8" r="2.0"/><circle cx="493.1" cy="235" r="2.0"/><circle cx="499.2" cy="234.2" r="2.0"/><circle cx="500" cy="235.8" r="2.0"/><circle cx="502.3" cy="234.2" r="2.0"/><circle cx="504.6" cy="234.2" r="2.0"/><circle cx="506.9" cy="234.2" r="2.0"/><circle cx="511.5" cy="234.2" r="2.0"/><circle cx="503.1" cy="236.5" r="2.0"/><circle cx="505.4" cy="236.5" r="2.0"/><circle cx="493.8" cy="240.4" r="2.0"/><circle cx="502.3" cy="240.4" r="2.0"/><circle cx="507.7" cy="240.4" r="2.0"/><circle cx="493.1" cy="247.3" r="2.0"/><circle cx="502.3" cy="248.5" r="2.0"/><circle cx="507.7" cy="250.1" r="2.0"/><circle cx="510" cy="247.3" r="2.0"/><circle cx="511.5" cy="250.1" r="2.0"/><circle cx="490" cy="254.7" r="2.0"/><circle cx="491.1" cy="255.8" r="2.0"/><circle cx="493.5" cy="258.1" r="2.0"/><circle cx="498.8" cy="258.1" r="2.0"/><circle cx="505.4" cy="258.1" r="2.0"/><circle cx="496.2" cy="261.2" r="2.0"/><circle cx="496.9" cy="265" r="2.0"/><circle cx="504.6" cy="265" r="2.0"/><circle cx="508.5" cy="265" r="2.0"/><circle cx="505.4" cy="272.2" r="2.0"/><circle cx="509.5" cy="272.2" r="2.0"/><circle cx="490.8" cy="275.7" r="2.0"/><circle cx="506.9" cy="275.7" r="2.0"/><circle cx="490.2" cy="63" r="2.0"/><circle cx="492.5" cy="63" r="2.0"/><circle cx="494.8" cy="63" r="2.0"/><circle cx="497" cy="63" r="2.0"/><circle cx="499.2" cy="63" r="2.0"/><circle cx="501.5" cy="63" r="2.0"/><circle cx="503.8" cy="63" r="2.0"/><circle cx="508.5" cy="63" r="2.0"/><circle cx="511.5" cy="63" r="2.0"/><circle cx="491.3" cy="63" r="2.0"/><circle cx="493.6" cy="63" r="2.0"/><circle cx="495.9" cy="63" r="2.0"/><circle cx="498.1" cy="63" r="2.0"/><circle cx="500.3" cy="63" r="2.0"/><circle cx="502.6" cy="63" r="2.0"/><circle cx="509.7" cy="63" r="2.0"/><circle cx="510.5" cy="63" r="2.0"/><circle cx="498.8" cy="76.8" r="2.0"/><circle cx="510.5" cy="79.1" r="2.0"/><circle cx="493.5" cy="84.5" r="2.0"/><circle cx="498.5" cy="84" r="2.0"/><circle cx="504.6" cy="84" r="2.0"/><circle cx="507.4" cy="84.5" r="2.0"/><circle cx="511.5" cy="84.9" r="2.0"/><circle cx="489.2" cy="89.8" r="2.0"/><circle cx="494.6" cy="91.7" r="2.0"/><circle cx="498.5" cy="91.7" r="2.0"/><circle cx="502.8" cy="91.1" r="2.0"/><circle cx="504.6" cy="91.4" r="2.0"/><circle cx="511.5" cy="89.1" r="2.0"/><circle cx="510.8" cy="86" r="2.0"/><circle cx="494.6" cy="97.5" r="2.0"/><circle cx="498.5" cy="97.5" r="2.0"/><circle cx="503.1" cy="97.2" r="2.0"/><circle cx="506.9" cy="97.2" r="2.0"/><circle cx="492.3" cy="98.8" r="2.0"/><circle cx="507.7" cy="99.4" r="2.0"/></g><g fill="#56a8e1" fill-opacity="0.75" stroke="#56a8e1" stroke-opacity="0.75" stroke-width="0.8"><circle cx="610.8" cy="203.6" r="2.0"/><circle cx="625.8" cy="202.6" r="2.0"/><circle cx="611.6" cy="202.3" r="2.0"/><circle cx="612.9" cy="201.7" r="2.0"/><circle cx="625.7" cy="201" r="2.0"/><circle cx="612.7" cy="199.7" r="2.0"/><circle cx="628.4" cy="199.3" r="2.0"/><circle cx="624.3" cy="198.7" r="2.0"/><circle cx="624.9" cy="197.7" r="2.0"/><circle cx="610.5" cy="196.7" r="2.0"/><circle cx="610.3" cy="196.2" r="2.0"/><circle cx="622.7" cy="195.8" r="2.0"/><circle cx="624.4" cy="194.8" r="2.0"/><circle cx="610.5" cy="194.2" r="2.0"/><circle cx="610" cy="193.7" r="2.0"/><circle cx="610.9" cy="192.2" r="2.0"/><circle cx="608.4" cy="191.9" r="2.0"/><circle cx="615" cy="191.4" r="2.0"/><circle cx="616.9" cy="190.1" r="2.0"/><circle cx="619.8" cy="189.2" r="2.0"/><circle cx="606.5" cy="188.6" r="2.0"/><circle cx="609.7" cy="188.3" r="2.0"/><circle cx="608" cy="187.6" r="2.0"/><circle cx="611.5" cy="186.6" r="2.0"/><circle cx="609.6" cy="185.9" r="2.0"/><circle cx="627" cy="184.9" r="2.0"/><circle cx="613.9" cy="184.1" r="2.0"/><circle cx="608.5" cy="183.4" r="2.0"/><circle cx="620.7" cy="183.1" r="2.0"/><circle cx="627.8" cy="182.2" r="2.0"/><circle cx="623.7" cy="181.8" r="2.0"/><circle cx="620.3" cy="180.7" r="2.0"/><circle cx="614" cy="180.3" r="2.0"/><circle cx="614.6" cy="179.6" r="2.0"/><circle cx="612.3" cy="178.8" r="2.0"/><circle cx="624" cy="177.9" r="2.0"/><circle cx="623.9" cy="177.2" r="2.0"/><circle cx="616.6" cy="176.2" r="2.0"/><circle cx="625.2" cy="175.9" r="2.0"/><circle cx="620.4" cy="175.1" r="2.0"/><circle cx="621.2" cy="174" r="2.0"/><circle cx="611.5" cy="173.2" r="2.0"/><circle cx="610.9" cy="172.6" r="2.0"/><circle cx="610.5" cy="172" r="2.0"/><circle cx="626.4" cy="171.4" r="2.0"/><circle cx="623.8" cy="170.9" r="2.0"/><circle cx="626.1" cy="170.2" r="2.0"/><circle cx="624.3" cy="170" r="2.0"/><circle cx="623.9" cy="169.3" r="2.0"/><circle cx="615.4" cy="168.4" r="2.0"/><circle cx="623" cy="168.1" r="2.0"/><circle cx="609.1" cy="167.3" r="2.0"/><circle cx="620.5" cy="166.9" r="2.0"/><circle cx="606.2" cy="166.2" r="2.0"/><circle cx="627.7" cy="165.4" r="2.0"/><circle cx="625.7" cy="164.9" r="2.0"/><circle cx="609.1" cy="164.4" r="2.0"/><circle cx="623.1" cy="163.9" r="2.0"/><circle cx="624.4" cy="163" r="2.0"/><circle cx="606.2" cy="162.5" r="2.0"/><circle cx="618.4" cy="162" r="2.0"/><circle cx="615" cy="161.2" r="2.0"/><circle cx="619.6" cy="160.7" r="2.0"/><circle cx="625.8" cy="159.9" r="2.0"/><circle cx="622" cy="159.5" r="2.0"/><circle cx="610.1" cy="158.8" r="2.0"/><circle cx="618.1" cy="158.4" r="2.0"/><circle cx="618.3" cy="157.7" r="2.0"/><circle cx="605.5" cy="157" r="2.0"/><circle cx="608.3" cy="156.9" r="2.0"/><circle cx="613.6" cy="156" r="2.0"/><circle cx="609.4" cy="155.4" r="2.0"/><circle cx="610.8" cy="155.1" r="2.0"/><circle cx="620.9" cy="154.1" r="2.0"/><circle cx="627.6" cy="153.5" r="2.0"/><circle cx="615.9" cy="152.8" r="2.0"/><circle cx="620.2" cy="152.5" r="2.0"/><circle cx="622.9" cy="151.9" r="2.0"/><circle cx="620.9" cy="151" r="2.0"/><circle cx="620.5" cy="150.7" r="2.0"/><circle cx="605.3" cy="149.9" r="2.0"/><circle cx="625.4" cy="149.5" r="2.0"/><circle cx="609" cy="149" r="2.0"/><circle cx="609.4" cy="148.4" r="2.0"/><circle cx="617.1" cy="147.9" r="2.0"/><circle cx="618.9" cy="147.1" r="2.0"/><circle cx="622.8" cy="146.7" r="2.0"/><circle cx="612" cy="145.7" r="2.0"/><circle cx="627.2" cy="145" r="2.0"/><circle cx="619.8" cy="144.9" r="2.0"/><circle cx="624.8" cy="144.4" r="2.0"/><circle cx="616.3" cy="143.8" r="2.0"/><circle cx="606.9" cy="142.7" r="2.0"/><circle cx="605.5" cy="142.6" r="2.0"/><circle cx="620.1" cy="141.6" r="2.0"/><circle cx="615.1" cy="141.2" r="2.0"/><circle cx="615.5" cy="140.7" r="2.0"/><circle cx="612.8" cy="140.1" r="2.0"/><circle cx="609.4" cy="139.2" r="2.0"/><circle cx="616.2" cy="139" r="2.0"/><circle cx="611.2" cy="137.9" r="2.0"/><circle cx="626" cy="137.5" r="2.0"/><circle cx="609.4" cy="137.1" r="2.0"/><circle cx="627.7" cy="136.5" r="2.0"/><circle cx="625.2" cy="135.7" r="2.0"/><circle cx="614.2" cy="135.1" r="2.0"/><circle cx="623.2" cy="134.7" r="2.0"/><circle cx="618.7" cy="134.1" r="2.0"/><circle cx="616.1" cy="133.4" r="2.0"/><circle cx="624.1" cy="132.5" r="2.0"/><circle cx="624.5" cy="132.2" r="2.0"/><circle cx="609.9" cy="131.4" r="2.0"/><circle cx="626.3" cy="130.9" r="2.0"/><circle cx="606" cy="130.4" r="2.0"/><circle cx="605.4" cy="129.9" r="2.0"/><circle cx="616.5" cy="129.3" r="2.0"/><circle cx="612.2" cy="128.8" r="2.0"/><circle cx="615.1" cy="128.2" r="2.0"/><circle cx="616.4" cy="127.9" r="2.0"/><circle cx="616.1" cy="127.3" r="2.0"/><circle cx="626.3" cy="126.4" r="2.0"/><circle cx="626.6" cy="126.1" r="2.0"/><circle cx="613.3" cy="125.4" r="2.0"/><circle cx="611.9" cy="124.8" r="2.0"/><circle cx="620.4" cy="124.4" r="2.0"/><circle cx="609.9" cy="124.1" r="2.0"/><circle cx="614.5" cy="123.2" r="2.0"/><circle cx="621.9" cy="122.7" r="2.0"/><circle cx="605.4" cy="122.4" r="2.0"/><circle cx="623.2" cy="121.5" r="2.0"/><circle cx="622.3" cy="121.2" r="2.0"/><circle cx="614.2" cy="120.8" r="2.0"/><circle cx="611" cy="120.3" r="2.0"/><circle cx="617.8" cy="119.7" r="2.0"/><circle cx="612.1" cy="118.9" r="2.0"/><circle cx="624.3" cy="118.2" r="2.0"/><circle cx="619" cy="118.1" r="2.0"/><circle cx="612.4" cy="117.6" r="2.0"/><circle cx="624" cy="116.7" r="2.0"/><circle cx="619.3" cy="116.3" r="2.0"/><circle cx="608.3" cy="115.7" r="2.0"/><circle cx="614.9" cy="114.9" r="2.0"/><circle cx="616.6" cy="114.3" r="2.0"/><circle cx="627.2" cy="113.8" r="2.0"/><circle cx="612.7" cy="113.3" r="2.0"/><circle cx="615.7" cy="113.2" r="2.0"/><circle cx="627.9" cy="112.6" r="2.0"/><circle cx="615.1" cy="111.8" r="2.0"/><circle cx="624.4" cy="111" r="2.0"/><circle cx="607.5" cy="111" r="2.0"/><circle cx="614.4" cy="110.2" r="2.0"/><circle cx="609.5" cy="109.7" r="2.0"/><circle cx="625.8" cy="109.1" r="2.0"/><circle cx="618.1" cy="108.7" r="2.0"/><circle cx="610.3" cy="108.1" r="2.0"/><circle cx="607.4" cy="107.6" r="2.0"/><circle cx="615" cy="107.1" r="2.0"/><circle cx="607.5" cy="106.3" r="2.0"/><circle cx="616.5" cy="105.8" r="2.0"/><circle cx="622.2" cy="105.1" r="2.0"/><circle cx="612.5" cy="104.6" r="2.0"/><circle cx="609.1" cy="103.9" r="2.0"/><circle cx="613.6" cy="103.7" r="2.0"/><circle cx="609.1" cy="102.8" r="2.0"/><circle cx="624.8" cy="102.6" r="2.0"/><circle cx="607.5" cy="101.9" r="2.0"/><circle cx="622.4" cy="101.2" r="2.0"/><circle cx="613" cy="100.9" r="2.0"/><circle cx="622.1" cy="100.3" r="2.0"/><circle cx="623.1" cy="99.7" r="2.0"/><circle cx="608.4" cy="99.4" r="2.0"/><circle cx="622.8" cy="98.6" r="2.0"/><circle cx="627.2" cy="98.3" r="2.0"/><circle cx="618.4" cy="98.5" r="2.0"/><circle cx="620.2" cy="98.5" r="2.0"/><circle cx="612.7" cy="98.5" r="2.0"/><circle cx="609.3" cy="98.5" r="2.0"/><circle cx="622.5" cy="98.5" r="2.0"/><circle cx="624.3" cy="98.5" r="2.0"/><circle cx="610" cy="91.4" r="2.0"/><circle cx="607.9" cy="91.4" r="2.0"/><circle cx="613.4" cy="91.4" r="2.0"/><circle cx="619.8" cy="91.4" r="2.0"/><circle cx="613.7" cy="91.4" r="2.0"/><circle cx="627.6" cy="91.4" r="2.0"/><circle cx="623.6" cy="91.4" r="2.0"/><circle cx="626.5" cy="91.4" r="2.0"/><circle cx="619.2" cy="91.4" r="2.0"/><circle cx="622.8" cy="91.4" r="2.0"/><circle cx="627.3" cy="91.4" r="2.0"/><circle cx="606.1" cy="84.3" r="2.0"/><circle cx="618.6" cy="84.3" r="2.0"/><circle cx="609.6" cy="84.3" r="2.0"/><circle cx="623.7" cy="84.3" r="2.0"/><circle cx="610.6" cy="84.3" r="2.0"/><circle cx="622.5" cy="84.3" r="2.0"/><circle cx="613" cy="84.3" r="2.0"/><circle cx="620.4" cy="84.3" r="2.0"/><circle cx="621" cy="84.3" r="2.0"/><circle cx="626.3" cy="84.3" r="2.0"/><circle cx="625.5" cy="84.3" r="2.0"/><circle cx="615.4" cy="84.3" r="2.0"/><circle cx="621.2" cy="84.3" r="2.0"/><circle cx="609.5" cy="77.2" r="2.0"/><circle cx="607.5" cy="77.2" r="2.0"/><circle cx="621.8" cy="77.2" r="2.0"/><circle cx="626.3" cy="77.2" r="2.0"/><circle cx="622.6" cy="77.2" r="2.0"/><circle cx="617.2" cy="77.2" r="2.0"/><circle cx="619.9" cy="77.2" r="2.0"/><circle cx="622.2" cy="77.2" r="2.0"/><circle cx="618.5" cy="77.2" r="2.0"/><circle cx="613.7" cy="77.2" r="2.0"/><circle cx="625" cy="77.2" r="2.0"/><circle cx="613.8" cy="77.2" r="2.0"/><circle cx="626.2" cy="70.1" r="2.0"/><circle cx="623.8" cy="70.1" r="2.0"/><circle cx="623.6" cy="70.1" r="2.0"/><circle cx="624.6" cy="70.1" r="2.0"/><circle cx="628.1" cy="70.1" r="2.0"/><circle cx="628.2" cy="70.1" r="2.0"/><circle cx="616.9" cy="70.1" r="2.0"/><circle cx="614" cy="70.1" r="2.0"/><circle cx="622.3" cy="70.1" r="2.0"/><circle cx="627.7" cy="70.1" r="2.0"/><circle cx="619.9" cy="70.1" r="2.0"/><circle cx="605.8" cy="70.1" r="2.0"/><circle cx="606.1" cy="70.1" r="2.0"/><circle cx="616" cy="63" r="2.0"/><circle cx="623.5" cy="63" r="2.0"/><circle cx="625.8" cy="63" r="2.0"/><circle cx="614" cy="63" r="2.0"/><circle cx="617.2" cy="63" r="2.0"/><circle cx="617.2" cy="63" r="2.0"/><circle cx="607.4" cy="63" r="2.0"/><circle cx="605.3" cy="63" r="2.0"/><circle cx="617.4" cy="63" r="2.0"/><circle cx="616.9" cy="63" r="2.0"/><circle cx="625.3" cy="63" r="2.0"/><circle cx="609.5" cy="63" r="2.0"/><circle cx="625" cy="63" r="2.0"/><circle cx="611.5" cy="63" r="2.0"/><circle cx="617.8" cy="63" r="2.0"/><circle cx="621.7" cy="63" r="2.0"/><circle cx="608.6" cy="63" r="2.0"/><circle cx="627.2" cy="63" r="2.0"/><circle cx="627.5" cy="63" r="2.0"/><circle cx="627.8" cy="63" r="2.0"/><circle cx="605.3" cy="63" r="2.0"/><circle cx="620.2" cy="63" r="2.0"/><circle cx="620.8" cy="63" r="2.0"/><circle cx="625.7" cy="63" r="2.0"/><circle cx="624.4" cy="297.7" r="2.0"/><circle cx="608.3" cy="205.4" r="2.0"/><circle cx="610.6" cy="202.8" r="2.0"/><circle cx="623.7" cy="209.5" r="2.0"/><circle cx="626.8" cy="209.5" r="2.0"/><circle cx="609.8" cy="212" r="2.0"/><circle cx="611.4" cy="214.2" r="2.0"/><circle cx="614.5" cy="214.6" r="2.0"/><circle cx="619.1" cy="214.6" r="2.0"/><circle cx="608" cy="216.2" r="2.0"/><circle cx="607.1" cy="219.2" r="2.0"/><circle cx="606.5" cy="221.8" r="2.0"/><circle cx="617.5" cy="221.5" r="2.0"/><circle cx="615.2" cy="226.2" r="2.0"/><circle cx="619.1" cy="228.5" r="2.0"/><circle cx="623.7" cy="228.5" r="2.0"/><circle cx="627.5" cy="226.5" r="2.0"/><circle cx="628.3" cy="228.5" r="2.0"/><circle cx="617.5" cy="231.5" r="2.0"/><circle cx="608.6" cy="236.2" r="2.0"/><circle cx="609.5" cy="240.8" r="2.0"/><circle cx="616" cy="240.8" r="2.0"/><circle cx="620.6" cy="240.8" r="2.0"/><circle cx="625.2" cy="240.8" r="2.0"/><circle cx="607.1" cy="254.6" r="2.0"/><circle cx="623.7" cy="254.6" r="2.0"/><circle cx="627.5" cy="254.6" r="2.0"/><circle cx="607.1" cy="261.9" r="2.0"/><circle cx="616.8" cy="261.9" r="2.0"/><circle cx="622.5" cy="261.9" r="2.0"/></g><g fill="#d969f0" fill-opacity="0.75" stroke="#d969f0" stroke-opacity="0.75" stroke-width="0.8"><circle cx="725.5" cy="214.8" r="2.0"/><circle cx="741.1" cy="214.1" r="2.0"/><circle cx="735.2" cy="212.9" r="2.0"/><circle cx="723.3" cy="212.5" r="2.0"/><circle cx="721.3" cy="211.9" r="2.0"/><circle cx="741.5" cy="211.1" r="2.0"/><circle cx="726.4" cy="210" r="2.0"/><circle cx="723.4" cy="209.3" r="2.0"/><circle cx="736.2" cy="208.4" r="2.0"/><circle cx="737.3" cy="207.6" r="2.0"/><circle cx="741.7" cy="207.4" r="2.0"/><circle cx="732.6" cy="205.9" r="2.0"/><circle cx="728.2" cy="205.2" r="2.0"/><circle cx="728.3" cy="204.4" r="2.0"/><circle cx="725.7" cy="203.8" r="2.0"/><circle cx="735.7" cy="203.3" r="2.0"/><circle cx="742.8" cy="202.7" r="2.0"/><circle cx="722.9" cy="201.4" r="2.0"/><circle cx="729.9" cy="201" r="2.0"/><circle cx="729.1" cy="200.2" r="2.0"/><circle cx="722.8" cy="199.3" r="2.0"/><circle cx="734.7" cy="198.5" r="2.0"/><circle cx="743.8" cy="197.8" r="2.0"/><circle cx="727.4" cy="197.1" r="2.0"/><circle cx="737.8" cy="196.4" r="2.0"/><circle cx="741.8" cy="195.4" r="2.0"/><circle cx="727.2" cy="195" r="2.0"/><circle cx="742.3" cy="194.3" r="2.0"/><circle cx="738.3" cy="193" r="2.0"/><circle cx="735.9" cy="192.3" r="2.0"/><circle cx="725.5" cy="191.7" r="2.0"/><circle cx="727.4" cy="191.3" r="2.0"/><circle cx="723.3" cy="190.7" r="2.0"/><circle cx="741.7" cy="189.2" r="2.0"/><circle cx="739.7" cy="188.5" r="2.0"/><circle cx="723" cy="188.2" r="2.0"/><circle cx="733.3" cy="187.2" r="2.0"/><circle cx="725.9" cy="186.9" r="2.0"/><circle cx="738.7" cy="185.8" r="2.0"/><circle cx="734.2" cy="184.9" r="2.0"/><circle cx="742.9" cy="184.4" r="2.0"/><circle cx="737.8" cy="183.3" r="2.0"/><circle cx="723.3" cy="182.4" r="2.0"/><circle cx="729.6" cy="182.2" r="2.0"/><circle cx="734.3" cy="181.1" r="2.0"/><circle cx="742.1" cy="180.5" r="2.0"/><circle cx="729.6" cy="179.9" r="2.0"/><circle cx="725.3" cy="179" r="2.0"/><circle cx="727.5" cy="178.2" r="2.0"/><circle cx="726.7" cy="177.1" r="2.0"/><circle cx="724.5" cy="176.5" r="2.0"/><circle cx="728.9" cy="176.3" r="2.0"/><circle cx="726.7" cy="175.7" r="2.0"/><circle cx="732.8" cy="174.7" r="2.0"/><circle cx="741.7" cy="174.4" r="2.0"/><circle cx="743.1" cy="173.8" r="2.0"/><circle cx="724.6" cy="173.4" r="2.0"/><circle cx="734.2" cy="172.6" r="2.0"/><circle cx="736.6" cy="172.2" r="2.0"/><circle cx="724.5" cy="171.7" r="2.0"/><circle cx="733.3" cy="171.3" r="2.0"/><circle cx="725.6" cy="170.5" r="2.0"/><circle cx="729.4" cy="170.2" r="2.0"/><circle cx="728.5" cy="169.7" r="2.0"/><circle cx="739.9" cy="169" r="2.0"/><circle cx="726.4" cy="168.3" r="2.0"/><circle cx="733.5" cy="168" r="2.0"/><circle cx="734.5" cy="167.5" r="2.0"/><circle cx="728.6" cy="167" r="2.0"/><circle cx="742.5" cy="166.3" r="2.0"/><circle cx="728.7" cy="165.6" r="2.0"/><circle cx="728.5" cy="165.4" r="2.0"/><circle cx="737" cy="164.7" r="2.0"/><circle cx="732.3" cy="164.1" r="2.0"/><circle cx="737.8" cy="163.8" r="2.0"/><circle cx="724.5" cy="163.1" r="2.0"/><circle cx="724.4" cy="162.7" r="2.0"/><circle cx="738" cy="162.2" r="2.0"/><circle cx="730" cy="161.2" r="2.0"/><circle cx="740.8" cy="161.2" r="2.0"/><circle cx="726.4" cy="160.5" r="2.0"/><circle cx="726.5" cy="159.8" r="2.0"/><circle cx="741" cy="159.4" r="2.0"/><circle cx="729.3" cy="159" r="2.0"/><circle cx="723.5" cy="158" r="2.0"/><circle cx="726.1" cy="157.8" r="2.0"/><circle cx="738.8" cy="157.2" r="2.0"/><circle cx="727.1" cy="156.4" r="2.0"/><circle cx="733.8" cy="155.8" r="2.0"/><circle cx="740.3" cy="155.3" r="2.0"/><circle cx="735.1" cy="155.1" r="2.0"/><circle cx="738.4" cy="154.3" r="2.0"/><circle cx="743.6" cy="153.7" r="2.0"/><circle cx="727.9" cy="153.6" r="2.0"/><circle cx="741.3" cy="152.6" r="2.0"/><circle cx="733.7" cy="152.5" r="2.0"/><circle cx="725.6" cy="151.7" r="2.0"/><circle cx="724" cy="151.4" r="2.0"/><circle cx="728.6" cy="150.9" r="2.0"/><circle cx="724.1" cy="150.4" r="2.0"/><circle cx="738.9" cy="149.4" r="2.0"/><circle cx="733.9" cy="149.3" r="2.0"/><circle cx="722" cy="148.3" r="2.0"/><circle cx="741.3" cy="148.2" r="2.0"/><circle cx="734.8" cy="147.6" r="2.0"/><circle cx="731.2" cy="147.1" r="2.0"/><circle cx="724.2" cy="146.1" r="2.0"/><circle cx="731.9" cy="146.1" r="2.0"/><circle cx="742.2" cy="145.1" r="2.0"/><circle cx="734.5" cy="144.9" r="2.0"/><circle cx="731.6" cy="144" r="2.0"/><circle cx="735.1" cy="143.6" r="2.0"/><circle cx="733.7" cy="143.3" r="2.0"/><circle cx="735.4" cy="142.6" r="2.0"/><circle cx="725.6" cy="142.3" r="2.0"/><circle cx="724.4" cy="141.6" r="2.0"/><circle cx="721.2" cy="141.3" r="2.0"/><circle cx="740.2" cy="140.4" r="2.0"/><circle cx="721" cy="139.9" r="2.0"/><circle cx="726.9" cy="139.5" r="2.0"/><circle cx="734.5" cy="139.1" r="2.0"/><circle cx="732.5" cy="138" r="2.0"/><circle cx="741.9" cy="137.9" r="2.0"/><circle cx="725.9" cy="137.2" r="2.0"/><circle cx="723.6" cy="136.8" r="2.0"/><circle cx="724.7" cy="136" r="2.0"/><circle cx="732.5" cy="135.3" r="2.0"/><circle cx="727.7" cy="134.7" r="2.0"/><circle cx="731.5" cy="134.2" r="2.0"/><circle cx="736.9" cy="133.6" r="2.0"/><circle cx="728.4" cy="132.7" r="2.0"/><circle cx="736.4" cy="132.4" r="2.0"/><circle cx="721.4" cy="131.8" r="2.0"/><circle cx="733.6" cy="131.1" r="2.0"/><circle cx="742" cy="130.6" r="2.0"/><circle cx="742.6" cy="129.8" r="2.0"/><circle cx="734.2" cy="129.5" r="2.0"/><circle cx="743.8" cy="128.8" r="2.0"/><circle cx="726.4" cy="128.1" r="2.0"/><circle cx="727.9" cy="127.6" r="2.0"/><circle cx="731.3" cy="126.7" r="2.0"/><circle cx="732.8" cy="126.4" r="2.0"/><circle cx="740" cy="125.7" r="2.0"/><circle cx="731.3" cy="125.1" r="2.0"/><circle cx="722.1" cy="124.3" r="2.0"/><circle cx="737.2" cy="124.1" r="2.0"/><circle cx="726.1" cy="123.1" r="2.0"/><circle cx="741.4" cy="122.4" r="2.0"/><circle cx="725.9" cy="122.2" r="2.0"/><circle cx="727.8" cy="121.7" r="2.0"/><circle cx="724.1" cy="120.7" r="2.0"/><circle cx="728" cy="120.4" r="2.0"/><circle cx="734.9" cy="119.9" r="2.0"/><circle cx="727.2" cy="119.3" r="2.0"/><circle cx="722.1" cy="118.4" r="2.0"/><circle cx="734.6" cy="117.6" r="2.0"/><circle cx="738" cy="117.1" r="2.0"/><circle cx="723.5" cy="116.6" r="2.0"/><circle cx="730.8" cy="116.1" r="2.0"/><circle cx="722.5" cy="115.2" r="2.0"/><circle cx="721.3" cy="114.8" r="2.0"/><circle cx="729.6" cy="114" r="2.0"/><circle cx="727.6" cy="113.6" r="2.0"/><circle cx="741.3" cy="113" r="2.0"/><circle cx="721.3" cy="112.4" r="2.0"/><circle cx="735.9" cy="112.1" r="2.0"/><circle cx="738" cy="111.4" r="2.0"/><circle cx="730.6" cy="111" r="2.0"/><circle cx="732.6" cy="109.8" r="2.0"/><circle cx="726.7" cy="109.2" r="2.0"/><circle cx="726.8" cy="108.8" r="2.0"/><circle cx="722.2" cy="108.5" r="2.0"/><circle cx="742" cy="107.9" r="2.0"/><circle cx="721.6" cy="107.1" r="2.0"/><circle cx="724.1" cy="106.6" r="2.0"/><circle cx="737.8" cy="106.1" r="2.0"/><circle cx="731.6" cy="105.5" r="2.0"/><circle cx="732.8" cy="104.6" r="2.0"/><circle cx="727.8" cy="103.9" r="2.0"/><circle cx="724.7" cy="103.8" r="2.0"/><circle cx="739.5" cy="103" r="2.0"/><circle cx="723.8" cy="105.7" r="2.0"/><circle cx="727.8" cy="98.5" r="2.0"/><circle cx="738.4" cy="98.5" r="2.0"/><circle cx="727.9" cy="98.5" r="2.0"/><circle cx="743" cy="98.5" r="2.0"/><circle cx="725" cy="98.5" r="2.0"/><circle cx="733.2" cy="98.5" r="2.0"/><circle cx="733.4" cy="98.5" r="2.0"/><circle cx="732.6" cy="98.5" r="2.0"/><circle cx="738.9" cy="98.5" r="2.0"/><circle cx="722" cy="98.5" r="2.0"/><circle cx="733.6" cy="98.5" r="2.0"/><circle cx="739.3" cy="98.5" r="2.0"/><circle cx="722.1" cy="91.4" r="2.0"/><circle cx="733.6" cy="91.4" r="2.0"/><circle cx="731.2" cy="91.4" r="2.0"/><circle cx="730.3" cy="91.4" r="2.0"/><circle cx="733.4" cy="91.4" r="2.0"/><circle cx="735.4" cy="91.4" r="2.0"/><circle cx="737.3" cy="91.4" r="2.0"/><circle cx="741.8" cy="91.4" r="2.0"/><circle cx="736.2" cy="91.4" r="2.0"/><circle cx="744.1" cy="91.4" r="2.0"/><circle cx="736.4" cy="91.4" r="2.0"/><circle cx="727.2" cy="91.4" r="2.0"/><circle cx="724.4" cy="84.3" r="2.0"/><circle cx="722.6" cy="84.3" r="2.0"/><circle cx="727.2" cy="84.3" r="2.0"/><circle cx="723.7" cy="84.3" r="2.0"/><circle cx="736.8" cy="84.3" r="2.0"/><circle cx="736.9" cy="84.3" r="2.0"/><circle cx="735.1" cy="84.3" r="2.0"/><circle cx="729.8" cy="84.3" r="2.0"/><circle cx="731.7" cy="84.3" r="2.0"/><circle cx="727" cy="84.3" r="2.0"/><circle cx="742.3" cy="84.3" r="2.0"/><circle cx="721.3" cy="77.2" r="2.0"/><circle cx="728.4" cy="77.2" r="2.0"/><circle cx="734.2" cy="77.2" r="2.0"/><circle cx="725.1" cy="77.2" r="2.0"/><circle cx="740.8" cy="77.2" r="2.0"/><circle cx="732.1" cy="77.2" r="2.0"/><circle cx="729.5" cy="77.2" r="2.0"/><circle cx="722.4" cy="77.2" r="2.0"/><circle cx="727.5" cy="77.2" r="2.0"/><circle cx="734.6" cy="77.2" r="2.0"/><circle cx="727.5" cy="77.2" r="2.0"/><circle cx="722" cy="77.2" r="2.0"/><circle cx="734.4" cy="77.2" r="2.0"/><circle cx="728" cy="70.1" r="2.0"/><circle cx="740.6" cy="70.1" r="2.0"/><circle cx="737" cy="70.1" r="2.0"/><circle cx="737.7" cy="70.1" r="2.0"/><circle cx="741.6" cy="70.1" r="2.0"/><circle cx="739.7" cy="70.1" r="2.0"/><circle cx="728.6" cy="70.1" r="2.0"/><circle cx="734.2" cy="70.1" r="2.0"/><circle cx="727" cy="70.1" r="2.0"/><circle cx="725.6" cy="70.1" r="2.0"/><circle cx="725.7" cy="70.1" r="2.0"/><circle cx="723.5" cy="70.1" r="2.0"/><circle cx="726.5" cy="63" r="2.0"/><circle cx="726.2" cy="63" r="2.0"/><circle cx="736.6" cy="63" r="2.0"/><circle cx="726.8" cy="63" r="2.0"/><circle cx="722" cy="63" r="2.0"/><circle cx="730.7" cy="63" r="2.0"/><circle cx="725.6" cy="63" r="2.0"/><circle cx="736.9" cy="63" r="2.0"/><circle cx="726.1" cy="63" r="2.0"/><circle cx="733.9" cy="63" r="2.0"/><circle cx="725" cy="63" r="2.0"/><circle cx="732.1" cy="63" r="2.0"/><circle cx="741.1" cy="63" r="2.0"/><circle cx="728" cy="63" r="2.0"/><circle cx="733.2" cy="63" r="2.0"/><circle cx="731.1" cy="63" r="2.0"/><circle cx="722.6" cy="63" r="2.0"/><circle cx="721.4" cy="63" r="2.0"/><circle cx="740.5" cy="63" r="2.0"/><circle cx="723.5" cy="216.6" r="2.0"/><circle cx="725.8" cy="219.2" r="2.0"/><circle cx="730.2" cy="219.2" r="2.0"/><circle cx="735.8" cy="219.7" r="2.0"/><circle cx="734.8" cy="221.5" r="2.0"/><circle cx="740.9" cy="223.8" r="2.0"/><circle cx="739.4" cy="227.7" r="2.0"/><circle cx="734.8" cy="226.5" r="2.0"/><circle cx="724.6" cy="226.5" r="2.0"/><circle cx="724.3" cy="233.5" r="2.0"/><circle cx="732.3" cy="233.5" r="2.0"/><circle cx="736.9" cy="233.5" r="2.0"/><circle cx="742.5" cy="233.5" r="2.0"/><circle cx="730.2" cy="240.8" r="2.0"/><circle cx="721.2" cy="247.4" r="2.0"/><circle cx="734.8" cy="247.4" r="2.0"/><circle cx="736.3" cy="247.4" r="2.0"/><circle cx="723.1" cy="254.6" r="2.0"/><circle cx="727.7" cy="261.9" r="2.0"/></g><path d="M152.45 158.2V63M152.45 230V326.2M129.15 63H175.75M129.15 326.2H175.75M106.15 200.1H198.85M268.9 174V84.5M268.9 247.4V334.3M245.6 84.5H292.2M245.6 334.3H292.2M222.2 210.1H314.9M384.2 120.3V63M384.2 188.8V286.5M360.9 63H407.5M360.9 286.5H407.5M337.75 152.1H430.45M500.6 112.6V63M500.6 180.2V275.7M477.3 63H523.9M477.3 275.7H523.9M454.25 144.5H546.95M616.85 92.9V63M616.85 173V261.9M593.55 63H640.15M593.55 261.9H640.15M570.1 131.3H662.8M732.55 96.6V63M732.55 176.3V261.9M709.25 63H755.85M709.25 261.9H755.85M686.1 138.6H778.8" stroke="#000" stroke-opacity="0.56" stroke-width="1.4" fill="none"/><path d="M149.35 194L155.55 200.2M149.35 200.2L155.55 194M265.8 205.4L272 211.6M265.8 211.6L272 205.4M381.1 152.7L387.3 158.9M381.1 158.9L387.3 152.7M497.5 147.4L503.7 153.6M497.5 153.6L503.7 147.4M613.75 132.6L619.95 138.8M613.75 138.8L619.95 132.6M729.45 136.4L735.65 142.6M729.45 142.6L735.65 136.4" stroke="#000" stroke-width="1.3" fill="none"/><g fill="none" stroke="#000" stroke-opacity="0.8" stroke-width="1.1"><circle cx="152.45" cy="344.3" r="3.1"/><circle cx="500.6" cy="283.2" r="3.1"/><circle cx="500.6" cy="290.1" r="3.1"/><circle cx="500.6" cy="308.3" r="3.1"/><circle cx="616.85" cy="297.7" r="3.1"/></g><path d="M72.3 358.3V48.6H812.7M72.3 358.3H812.7" stroke="#000" stroke-opacity="0.78" stroke-width="1.05" fill="none"/><path d="M68.65 344.52H72.3M68.65 297.6H72.3M68.65 250.68H72.3M68.65 203.76H72.3M68.65 156.84H72.3M68.65 109.92H72.3M68.65 63H72.3M152.4 358.3V361.95M268.6 358.3V361.95M384.4 358.3V361.95M500.4 358.3V361.95M616.6 358.3V361.95M732.6 358.3V361.95" stroke="#000" stroke-opacity="0.78" stroke-width="1.05"/><g font-family="DejaVu Sans, sans-serif" font-size="18.75" fill="#000"><text x="64.4" y="351.35" text-anchor="end">0.4</text><text x="64.4" y="304.43" text-anchor="end">0.5</text><text x="64.4" y="257.51" text-anchor="end">0.6</text><text x="64.4" y="210.59" text-anchor="end">0.7</text><text x="64.4" y="163.67" text-anchor="end">0.8</text><text x="64.4" y="116.75" text-anchor="end">0.9</text><text x="64.4" y="69.83" text-anchor="end">1.0</text><text x="152.4" y="379.9" text-anchor="middle">Theta</text><text x="152.4" y="400.7" text-anchor="middle">(4 - 8Hz)</text><text x="268.6" y="379.9" text-anchor="middle">Alpha</text><text x="268.6" y="400.7" text-anchor="middle">(8 - 12Hz)</text><text x="384.4" y="379.9" text-anchor="middle">Beta</text><text x="384.4" y="400.7" text-anchor="middle">(12 - 35Hz)</text><text x="500.4" y="379.9" text-anchor="middle">Low</text><text x="500.4" y="400.7" text-anchor="middle">Gamma</text><text x="500.4" y="421.5" text-anchor="middle">(35 - 48Hz)</text><text x="616.6" y="379.9" text-anchor="middle">Medium</text><text x="616.6" y="400.7" text-anchor="middle">Gamma</text><text x="616.6" y="421.5" text-anchor="middle">(52 - 80Hz)</text><text x="732.6" y="379.9" text-anchor="middle">High</text><text x="732.6" y="400.7" text-anchor="middle">Gamma</text><text x="732.6" y="421.5" text-anchor="middle">(80 - 100Hz)</text></g><text font-family="DejaVu Sans, sans-serif" x="442.6" y="445.5" text-anchor="middle" font-size="21">Frequency Band (Hz)</text><text font-family="DejaVu Sans, sans-serif" transform="translate(24.2 203.6) rotate(-90)" text-anchor="middle" font-size="20.83">Accuracy (%)</text><text font-family="DejaVu Sans, sans-serif" x="442.4" y="42.0" text-anchor="middle" font-size="25">Classification Scores Over Frequency Bands</text></svg>
</body></html>
